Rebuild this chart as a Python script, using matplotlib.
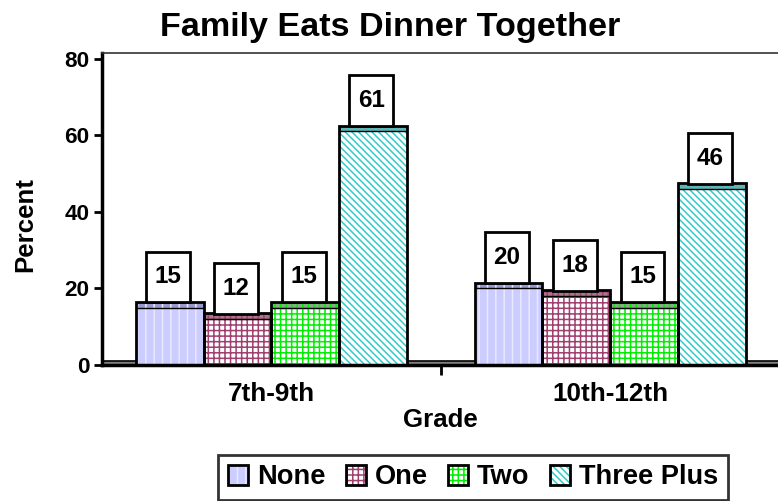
import matplotlib
matplotlib.use("Agg")
import matplotlib.pyplot as plt
from matplotlib.patches import Patch
from matplotlib.path import Path
from matplotlib.legend_handler import HandlerTuple

plt.rcParams['font.family'] = ['Liberation Sans', 'DejaVu Sans']
plt.rcParams['font.weight'] = 'bold'
plt.rcParams['hatch.linewidth'] = 1.1

grades = ["7th-9th", "10th-12th"]
series = ["None", "One", "Two", "Three Plus"]
values = {
    "None": [15, 20],
    "One": [12, 18],
    "Two": [15, 15],
    "Three Plus": [61, 46],
}
labels = {
    "None": ["15", "20"],
    "One": ["12", "18"],
    "Two": ["15", "15"],
    "Three Plus": ["61", "46"],
}
yticks = [0, 20, 40, 60, 80]

face = {"None": "#ccccff", "One": "#ffffff", "Two": "#ffffff", "Three Plus": "#ffffff"}
hatchc = {"None": "#e8e8ff", "One": "#a04070", "Two": "#00ee00", "Three Plus": "#33cccc"}
hatches = {"None": "||", "One": "+++", "Two": "+++", "Three Plus": "\\\\\\\\\\"}
capc = {"None": "#9999cc", "One": "#aa7788", "Two": "#88aa88", "Three Plus": "#77aaaa"}


def tallbox(x0, y0, width, height, mutation_size):
    px = 0.35 * mutation_size
    py = 0.57 * mutation_size
    x0, y0 = x0 - px, y0 - py
    x1, y1 = x0 + width + 2 * px, y0 + height + 2 * py
    return Path([(x0, y0), (x1, y0), (x1, y1), (x0, y1), (x0, y0)], closed=True)


fig = plt.figure(figsize=(7.78, 5.01), dpi=100)
ax = fig.add_axes([0.131, 0.2715, 0.869, 0.623])

width = 0.2
cap = 1.5
xs = [0, 1]
ax.set_xlim(-0.5, 1.495)
ax.set_ylim(0, 81.5)

# floor
ax.axhspan(0, 1.1, facecolor="#808080", edgecolor="none", zorder=1)
ax.axhline(1.1, color="black", lw=1.2, zorder=1.1)

for i, s in enumerate(series):
    pos = [x + (i - 1.5) * width for x in xs]
    v = values[s]
    ax.bar(pos, v, width, color=face[s], edgecolor=hatchc[s], hatch=hatches[s], lw=0, zorder=2)
    ax.bar(pos, [cap] * len(v), width, bottom=v, color=capc[s], edgecolor=hatchc[s],
           hatch=hatches[s], lw=0, zorder=2)
    ax.bar(pos, [vv + cap for vv in v], width, fill=False, edgecolor="black", lw=2, zorder=3)
    ax.bar(pos, [0] * len(v), width, bottom=v, fill=False, edgecolor="black", lw=1, zorder=3)
    for p, vv, t in zip(pos, v, labels[s]):
        ax.text(p - 0.005, vv + 8, t, ha="center", va="center", fontsize=17.5, fontweight="bold",
                zorder=5,
                bbox=dict(boxstyle=tallbox, facecolor="white", edgecolor="black", lw=2))

ax.set_yticks(yticks)
ax.set_yticklabels([str(t) for t in yticks], fontsize=16.2, fontweight="bold")
ax.set_xticks(xs)
ax.set_xticklabels(grades, fontsize=18.8, fontweight="bold")
ax.set_xticks([0.5], minor=True)
ax.tick_params(axis="x", which="major", length=0, pad=12)
ax.tick_params(axis="x", which="minor", length=7, width=2, direction="out")
ax.tick_params(axis="y", length=6, width=2, direction="out", pad=3)

ax.spines["right"].set_visible(False)
ax.spines["top"].set_linewidth(1.2)
ax.spines["top"].set_color("#333333")
ax.spines["left"].set_linewidth(2.5)
ax.spines["bottom"].set_linewidth(2.5)

ax.set_xlabel("Grade", fontsize=18.6, fontweight="bold", labelpad=2)
ax.set_ylabel("Percent", fontsize=18.6, fontweight="bold")
ax.yaxis.set_label_coords(-0.096, 0.451)
fig.text(0.501, 0.928, "Family Eats Dinner Together", ha="center", va="baseline",
         fontsize=24.6, fontweight="bold")

handles = [(Patch(facecolor=face[s], edgecolor=hatchc[s], hatch=hatches[s], lw=0),
            Patch(fill=False, edgecolor="black", lw=2)) for s in series]
leg = fig.legend(handles, series, loc="lower center", bbox_to_anchor=(0.608, 0.0), ncol=4,
                 handler_map={tuple: HandlerTuple(ndivide=1)},
                 prop=dict(size=19.6, weight="bold"), frameon=True, fancybox=False,
                 handlelength=0.75, handleheight=0.75, handletextpad=0.33, columnspacing=0.73,
                 borderpad=0.35, borderaxespad=0.05)
leg.get_frame().set_edgecolor("black")
leg.get_frame().set_linewidth(2)

fig.savefig("out.png", dpi=100)
